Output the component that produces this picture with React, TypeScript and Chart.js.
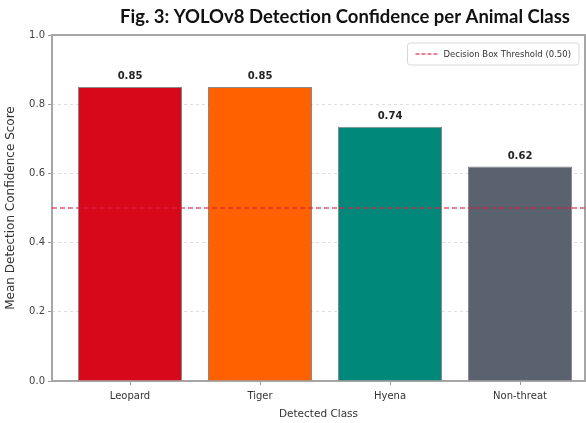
import React, { useEffect, useRef } from "react";
import { Chart, registerables } from "chart.js";

Chart.register(...registerables);

const categories = ["Leopard", "Tiger", "Hyena", "Non-threat"];
const confidence = [0.85, 0.85, 0.735, 0.62];
const valueLabels = ["0.85", "0.85", "0.74", "0.62"];
const barColors = ["#D7081A", "#FF6100", "#00897B", "#59626E"];
const threshold = 0.5;
const thresholdLabel = "Decision Box Threshold (0.50)";
const chartTitle = "Fig. 3: YOLOv8 Detection Confidence per Animal Class";
const xTitle = "Detected Class";
const yTitle = "Mean Detection Confidence Score";

const FONT = "'DejaVu Sans', sans-serif";
const THRESH_COLOR = "rgba(220, 30, 70, 0.75)";

const framePlugin = {
  id: "frameAndExtras",
  beforeDatasetsDraw(chart: any) {
    const { ctx, chartArea } = chart;
    ctx.save();
    ctx.strokeStyle = "#a6a6a6";
    ctx.lineWidth = 2;
    ctx.strokeRect(chartArea.left, chartArea.top, chartArea.right - chartArea.left, chartArea.bottom - chartArea.top);
    ctx.restore();
  },
  afterDatasetsDraw(chart: any) {
    const { ctx, chartArea, scales } = chart;
    const meta = chart.getDatasetMeta(0);
    ctx.save();
    ctx.fillStyle = "#222";
    ctx.font = `bold 10px ${FONT}`;
    ctx.textAlign = "center";
    ctx.textBaseline = "bottom";
    meta.data.forEach((bar: any, i: number) => {
      ctx.fillText(valueLabels[i], bar.x, bar.y - 5);
    });
    ctx.restore();
    const y = scales.y.getPixelForValue(threshold);
    ctx.save();
    ctx.strokeStyle = THRESH_COLOR;
    ctx.lineWidth = 1.5;
    ctx.setLineDash([5, 3]);
    ctx.beginPath();
    ctx.moveTo(chartArea.left, y);
    ctx.lineTo(chartArea.right, y);
    ctx.stroke();
    ctx.restore();
    ctx.save();
    ctx.font = `8.5px ${FONT}`;
    const tw = ctx.measureText(thresholdLabel).width;
    const boxW = tw + 44;
    const boxH = 22;
    const bx = chartArea.right - 6 - boxW;
    const by = chartArea.top + 8;
    ctx.fillStyle = "rgba(255,255,255,0.9)";
    ctx.strokeStyle = "#d8d8d8";
    ctx.lineWidth = 1;
    ctx.beginPath();
    if ((ctx as any).roundRect) (ctx as any).roundRect(bx, by, boxW, boxH, 3);
    else ctx.rect(bx, by, boxW, boxH);
    ctx.fill();
    ctx.stroke();
    ctx.strokeStyle = THRESH_COLOR;
    ctx.lineWidth = 1.5;
    ctx.setLineDash([4, 2]);
    ctx.beginPath();
    ctx.moveTo(bx + 8, by + boxH / 2);
    ctx.lineTo(bx + 30, by + boxH / 2);
    ctx.stroke();
    ctx.setLineDash([]);
    ctx.fillStyle = "#333";
    ctx.textBaseline = "middle";
    ctx.textAlign = "left";
    ctx.fillText(thresholdLabel, bx + 36, by + boxH / 2 + 0.5);
    ctx.restore();
  },
  afterDraw(chart: any) {
    const { ctx } = chart;
    ctx.save();
    ctx.fillStyle = "#111";
    ctx.font = `bold 18.5px Lato, ${FONT}`;
    ctx.textAlign = "center";
    ctx.textBaseline = "middle";
    ctx.fillText(chartTitle, 345, 17);
    ctx.restore();
  },
};

export default function App() {
  const ref = useRef<HTMLCanvasElement | null>(null);

  useEffect(() => {
    if (!ref.current) return;
    const chart = new Chart(ref.current, {
      type: "bar",
      data: {
        datasets: [
          {
            label: "Confidence",
            data: confidence.map((v, i) => ({ x: i, y: v })),
            backgroundColor: barColors,
            borderColor: "rgba(40,40,40,0.55)",
            borderWidth: 1,
            categoryPercentage: 1,
            barPercentage: 0.8,
          },
        ],
      },
      options: {
        responsive: false,
        animation: false,
        layout: { padding: { top: 35, right: 1, left: 4, bottom: 0 } },
        plugins: {
          legend: { display: false },
          tooltip: { enabled: false },
          title: { display: false },
        },
        scales: {
          x: {
            type: "linear",
            min: -0.6,
            max: 3.5,
            offset: false,
            border: { display: false },
            grid: { offset: false, drawOnChartArea: false, tickLength: 4, color: "#999" },
            ticks: {
              stepSize: 1,
              includeBounds: false,
              color: "#333",
              font: { family: FONT, size: 10 },
              padding: 5,
              callback: (v: any) => (Number.isInteger(v) ? categories[v] ?? "" : ""),
              maxRotation: 0,
              autoSkip: false,
            },
            title: {
              display: true,
              text: xTitle,
              color: "#333",
              font: { family: FONT, size: 10.5 },
              padding: { top: 0, bottom: 2 },
            },
            afterFit: (s: any) => {
              s.height = 42;
            },
          },
          y: {
            min: 0,
            max: 1,
            border: { display: false, dash: [3, 3] },
            grid: {
              color: "rgba(0,0,0,0.13)",
              tickColor: "#999",
              tickLength: 4,
              tickBorderDash: [],
            },
            ticks: {
              stepSize: 0.2,
              color: "#444",
              font: { family: FONT, size: 10 },
              padding: 3,
              callback: (v: any) => Number(v).toFixed(1),
            },
            title: {
              display: true,
              text: yTitle,
              color: "#333",
              font: { family: FONT, size: 12 },
              padding: { top: 0, bottom: 4 },
            },
            afterFit: (s: any) => {
              s.width = 48;
            },
          },
        },
      },
      plugins: [framePlugin],
    } as any);
    return () => chart.destroy();
  }, []);

  return (
    <div style={{ position: "absolute", left: 0, top: 0, width: 586, height: 423, background: "#fff", overflow: "hidden" }}>
      <canvas ref={ref} width={586} height={423} style={{ display: "block" }} />
    </div>
  );
}
